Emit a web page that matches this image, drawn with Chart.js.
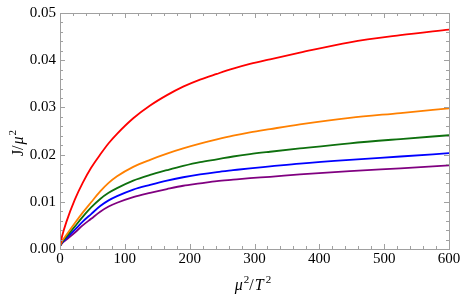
<!DOCTYPE html>
<html>
<head>
<meta charset="utf-8">
<script src="https://cdn.jsdelivr.net/npm/chart.js@4"></script>
<style>
  html, body { margin: 0; padding: 0; background: #fff; }
  #wrap { width: 463px; height: 296px; }
</style>
</head>
<body>
<div id="wrap"><canvas id="lineChart"></canvas></div>
<script>
// values
var xVals      = [0, 3, 10, 23, 35, 48, 62, 75, 88, 113, 139, 165, 190, 216, 242, 267, 293, 324, 370, 447, 525, 600];
var redVals    = [0.0006, 0.0026, 0.0058, 0.0105, 0.0140, 0.0172, 0.0200, 0.0224, 0.0244, 0.0277, 0.0304, 0.0326, 0.0344, 0.0359, 0.0371, 0.0382, 0.0392, 0.0402, 0.0416, 0.0438, 0.0453, 0.0465];
var orangeVals = [0.0006, 0.0016, 0.0030, 0.0055, 0.0077, 0.0099, 0.0122, 0.0140, 0.0154, 0.0174, 0.0189, 0.0202, 0.0213, 0.0223, 0.0232, 0.0240, 0.0247, 0.0254, 0.0264, 0.0278, 0.0288, 0.0298];
var greenVals  = [0.0006, 0.0014, 0.0026, 0.0048, 0.0068, 0.0088, 0.0106, 0.0119, 0.0129, 0.0145, 0.0157, 0.0167, 0.0176, 0.0184, 0.0190, 0.0196, 0.0201, 0.0206, 0.0213, 0.0224, 0.0233, 0.0241];
var blueVals   = [0.0006, 0.0013, 0.0023, 0.0041, 0.0058, 0.0074, 0.0091, 0.0103, 0.0112, 0.0126, 0.0136, 0.0145, 0.0152, 0.0158, 0.0163, 0.0167, 0.0171, 0.0175, 0.0181, 0.0189, 0.0196, 0.0203];
var purpleVals = [0.0006, 0.0012, 0.0020, 0.0035, 0.0050, 0.0064, 0.0079, 0.0090, 0.0098, 0.0110, 0.0119, 0.0127, 0.0134, 0.0139, 0.0144, 0.0147, 0.0150, 0.0153, 0.0158, 0.0165, 0.0171, 0.0177];
var xTicks = [0, 100, 200, 300, 400, 500, 600];
var yTicks = [0.00, 0.01, 0.02, 0.03, 0.04, 0.05];

function pts(ys) {
  return xVals.map(function(x, i) { return { x: x, y: ys[i] }; });
}

function series(ys, color) {
  return {
    data: pts(ys),
    borderColor: color,
    borderWidth: 1.8,
    pointRadius: 0,
    fill: false,
    cubicInterpolationMode: 'monotone'
  };
}

var serif = '"Liberation Serif", "DejaVu Serif", serif';

// frame with inward ticks on all four sides, Mathematica style
var framePlugin = {
  id: 'frame',
  afterDraw: function(chart) {
    var ctx = chart.ctx, a = chart.chartArea;
    var xs = chart.scales.x, ys = chart.scales.y;
    ctx.save();
    ctx.strokeStyle = '#a0a0a0';
    ctx.lineWidth = 1;
    ctx.strokeRect(a.left + 0.5, a.top + 0.5, a.right - a.left, a.bottom - a.top);
    ctx.beginPath();
    for (var i = 0; i <= 30; i++) {
      var px = Math.round(xs.getPixelForValue(i * 20)) + 0.5;
      var len = (i % 5 === 0) ? 5 : 3;
      ctx.moveTo(px, a.bottom); ctx.lineTo(px, a.bottom - len);
      ctx.moveTo(px, a.top); ctx.lineTo(px, a.top + len);
    }
    for (var j = 0; j <= 25; j++) {
      var py = Math.round(ys.getPixelForValue(j * 0.002)) + 0.5;
      var l2 = (j % 5 === 0) ? 5 : 3;
      ctx.moveTo(a.left, py); ctx.lineTo(a.left + l2, py);
      ctx.moveTo(a.right, py); ctx.lineTo(a.right - l2, py);
    }
    ctx.stroke();

    // axis titles with mixed upright / italic pieces
    function drawParts(parts, cx, cy) {
      var w = 0;
      parts.forEach(function(p) {
        ctx.font = (p.it ? 'italic ' : '') + p.size + 'px ' + serif;
        p.w = ctx.measureText(p.t).width + (p.gap || 0);
        w += p.w;
      });
      var x = cx - w / 2;
      ctx.fillStyle = '#000';
      ctx.textBaseline = 'alphabetic';
      parts.forEach(function(p) {
        ctx.font = (p.it ? 'italic ' : '') + p.size + 'px ' + serif;
        ctx.fillText(p.t, x, cy + (p.dy || 0));
        x += p.w;
      });
    }
    ctx.save();
    ctx.translate(23, 143);
    ctx.rotate(-Math.PI / 2);
    drawParts([
      { t: 'J', size: 16 },
      { t: '/', size: 16, gap: 1 },
      { t: 'μ', size: 16, it: true, gap: 1 },
      { t: '2', size: 11, dy: -7 }
    ], 0, 0);
    ctx.restore();
    drawParts([
      { t: 'μ', size: 16, it: true, gap: 1 },
      { t: '2', size: 11, dy: -7 },
      { t: '/', size: 16, gap: 1 },
      { t: 'T', size: 16, it: true, gap: 2 },
      { t: '2', size: 11, dy: -7 }
    ], 253, 290);
    ctx.restore();
  }
};

var ctx = document.getElementById('lineChart').getContext('2d');
new Chart(ctx, {
  type: 'line',
  data: {
    datasets: [
      series(redVals, '#ff0000'),
      series(orangeVals, '#ff8000'),
      series(greenVals, '#0e700e'),
      series(blueVals, '#0000ff'),
      series(purpleVals, '#800080')
    ]
  },
  options: {
    responsive: true,
    maintainAspectRatio: false,
    animation: false,
    layout: { padding: { left: 0, right: 14, top: 8, bottom: 0 } },
    plugins: { legend: { display: false }, tooltip: { enabled: false } },
    scales: {
      x: {
        type: 'linear',
        min: 0,
        max: 600,
        afterBuildTicks: function(s) { s.ticks = xTicks.map(function(v) { return { value: v }; }); },
        afterFit: function(s) { s.height = 47; },
        ticks: { color: '#000', font: { family: serif, size: 15 }, padding: 1, maxRotation: 0 },
        grid: { display: false, drawTicks: false },
        border: { display: false }
      },
      y: {
        type: 'linear',
        min: 0,
        max: 0.05,
        afterBuildTicks: function(s) { s.ticks = yTicks.map(function(v) { return { value: v }; }); },
        afterFit: function(s) { s.width = 60; },
        ticks: {
          color: '#000',
          font: { family: serif, size: 15 },
          padding: 4,
          callback: function(v) { return v.toFixed(2); }
        },
        grid: { display: false, drawTicks: false },
        border: { display: false }
      }
    }
  },
  plugins: [framePlugin]
});
</script>
</body>
</html>
